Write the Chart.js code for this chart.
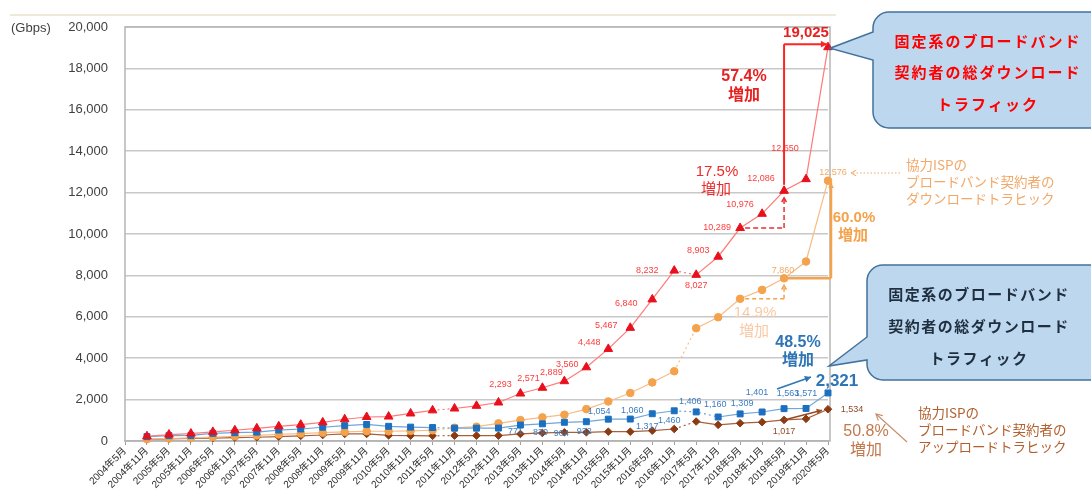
<!DOCTYPE html>
<html>
<head>
<meta charset="utf-8">
<script src="https://cdn.jsdelivr.net/npm/chart.js@4.4.0/dist/chart.umd.min.js"></script>
<style>
  html, body { margin: 0; background: #fff; }
</style>
</head>
<body>
<canvas id="trafficChart" width="1091" height="495"></canvas>
<script>
// Categories (semiannual)
const months = ['2004年5月','2004年11月','2005年5月','2005年11月','2006年5月','2006年11月','2007年5月','2007年11月',
  '2008年5月','2008年11月','2009年5月','2009年11月','2010年5月','2010年11月','2011年5月','2011年11月',
  '2012年5月','2012年11月','2013年5月','2013年11月','2014年5月','2014年11月','2015年5月','2015年11月',
  '2016年5月','2016年11月','2017年5月','2017年11月','2018年5月','2018年11月','2019年5月','2019年11月','2020年5月'];

// Gbps
const totalDown = [null, 230, 310, 360, 440, 520, 610, 710, 790, 900, 1050, 1160, 1180, 1330, 1480, 1570, 1700, 1860,
  2293, 2571, 2889, 3560, 4448, 5467, 6840, 8232, 8027, 8903, 10289, 10976, 12086, 12650, 19025];
const ispDown = [null, 90, 120, 150, 190, 230, 270, 320, 360, 400, 440, 470, 470, 490, 520, 640, 690, 850,
  1010, 1140, 1270, 1540, 1910, 2320, 2830, 3370, 5450, 5980, 6870, 7300, 7860, 8670, 12576];
const totalUp = [null, 210, 260, 270, 370, 400, 430, 530, 580, 665, 740, 800, 710, 670, 650, 620, 620, 625,
  771, 830, 904, 932, 1054, 1060, 1317, 1460, 1406, 1160, 1309, 1401, 1563, 1571, 2321];
const ispUp = [null, 80, 100, 120, 140, 160, 180, 210, 250, 290, 340, 340, 270, 260, 250, 260, 260, 260,
  340, 390, 420, 420, 450, 450, 500, 580, 940, 780, 860, 910, 1017, 1070, 1534];

const yTicks = [0, 2000, 4000, 6000, 8000, 10000, 12000, 14000, 16000, 18000, 20000];

const FONT = '"Liberation Sans", "Noto Sans CJK JP", sans-serif';
const JP = '"Noto Sans CJK JP", "Liberation Sans", sans-serif';
Chart.defaults.font.family = FONT;

// segments drawn dotted (index of the starting point)
function dotted(list) {
  return { borderDash: c => list.includes(c.p0DataIndex) ? [2, 3] : undefined };
}

function series(name, data, line, mark, style, r, dots) {
  return {
    label: name, data: data,
    borderColor: line, borderWidth: 1.2,
    pointStyle: style, pointRadius: r, pointBackgroundColor: mark, pointBorderColor: mark, pointBorderWidth: 1,
    clip: false, spanGaps: false,
    segment: dotted(dots)
  };
}

// label offsets per point [dx, dy]; dsi: 0 red, 1 blue, 2 orange, 3 brown
const labelSpots = [
  { dsi: 0, color: '#ff3b3b', at: { 18: [-20, -9], 19: [-14, -9], 20: [-13, -9], 21: [-19, -3], 22: [-19, -6], 23: [-24, -2],
      24: [-26, 4], 25: [-27, 0], 26: [0, 11], 27: [-20, -6], 28: [-23, -1], 29: [-22, -9], 30: [-23, -12], 31: [-21, -31] } },
  { dsi: 1, color: '#3a7cc0', at: { 18: [-5, 6], 19: [-2, 9], 20: [-3, 11], 21: [-2, 10], 22: [-9, -8], 23: [2, -9],
      24: [-5, 13], 25: [-5, 10], 26: [-6, -10], 27: [-3, -12], 28: [2, -10], 29: [-5, -19], 30: [4, -15], 31: [0, -15] } },
  { dsi: 2, color: '#f3aa63', at: { 30: [-1, -8], 32: [5, -8] } },
  { dsi: 3, color: '#8a4a2a', at: { 30: [0, 12], 32: [24, 0] } }
];

function arrow(ctx, x1, y1, x2, y2, color, w, dash, head, open) {
  ctx.save();
  ctx.strokeStyle = color; ctx.fillStyle = color; ctx.lineWidth = w;
  ctx.setLineDash(dash || []);
  ctx.beginPath(); ctx.moveTo(x1, y1); ctx.lineTo(x2, y2); ctx.stroke();
  if (head) {
    const a = Math.atan2(y2 - y1, x2 - x1);
    ctx.setLineDash([]);
    ctx.beginPath();
    ctx.moveTo(x2 - head * Math.cos(a - 0.5), y2 - head * Math.sin(a - 0.5));
    ctx.lineTo(x2, y2);
    ctx.lineTo(x2 - head * Math.cos(a + 0.5), y2 - head * Math.sin(a + 0.5));
    if (open) { ctx.stroke(); } else { ctx.closePath(); ctx.fill(); }
  }
  ctx.restore();
}

function txt(ctx, s, x, y, font, color, align, spacing) {
  ctx.save();
  ctx.font = font; ctx.fillStyle = color;
  ctx.textAlign = align || 'center'; ctx.textBaseline = 'middle';
  if (spacing) ctx.letterSpacing = spacing + 'px';
  ctx.fillText(s, x, y);
  ctx.restore();
}

function bubble(ctx, b) {
  const { x, y, w, h, r, p1, p2, tip } = b;
  ctx.save();
  ctx.beginPath();
  ctx.moveTo(x + r, y);
  ctx.lineTo(x + w - r, y);
  ctx.arcTo(x + w, y, x + w, y + r, r);
  ctx.lineTo(x + w, y + h - r);
  ctx.arcTo(x + w, y + h, x + w - r, y + h, r);
  ctx.lineTo(x + r, y + h);
  ctx.arcTo(x, y + h, x, y + h - r, r);
  ctx.lineTo(x, p2);
  ctx.lineTo(tip[0], tip[1]);
  ctx.lineTo(x, p1);
  ctx.lineTo(x, y + r);
  ctx.arcTo(x, y, x + r, y, r);
  ctx.closePath();
  ctx.fillStyle = '#bdd7ee';
  ctx.fill();
  ctx.strokeStyle = '#41719c';
  ctx.lineWidth = 1.5;
  ctx.stroke();
  ctx.restore();
}

const frame = {
  id: 'frame',
  beforeDatasetsDraw(chart) {
    const { ctx, chartArea: a } = chart;
    ctx.save();
    ctx.strokeStyle = '#b5b5b5';
    ctx.lineWidth = 1.5;
    ctx.strokeRect(a.left, a.top, a.right + 2 - a.left, a.bottom - a.top);
    ctx.strokeStyle = '#efe9dc';
    ctx.lineWidth = 2;
    ctx.beginPath(); ctx.moveTo(10, 15); ctx.lineTo(836, 15); ctx.stroke();
    ctx.restore();
  }
};

const notes = {
  id: 'notes',
  afterDatasetsDraw(chart) {
    const { ctx, scales: { x, y } } = chart;
    const px = i => x.getPixelForValue(i);
    const py = v => y.getPixelForValue(v);
    const last = months.length - 1;

    // data labels
    labelSpots.forEach(set => {
      const meta = chart.getDatasetMeta(set.dsi);
      const data = chart.data.datasets[set.dsi].data;
      Object.keys(set.at).forEach(k => {
        const p = meta.data[k], o = set.at[k];
        txt(ctx, data[k].toLocaleString('en-US'), p.x + o[0], p.y + o[1], '9px ' + FONT, set.color);
      });
    });

    // "(Gbps)"
    txt(ctx, '(Gbps)', 11, 28, '13px ' + FONT, '#404040', 'left');

    // red: 57.4% bracket
    const rx = px(30), rTop = py(totalDown[last]) - 3;
    ctx.save();
    ctx.strokeStyle = '#ff2424'; ctx.lineWidth = 2;
    ctx.beginPath(); ctx.moveTo(rx, py(totalDown[30]) - 6); ctx.lineTo(rx, rTop); ctx.stroke();
    ctx.restore();
    arrow(ctx, rx, rTop, px(last) - 1, rTop, '#ff2424', 2, null, 7);
    txt(ctx, '19,025', px(last) - 22, py(totalDown[last]) - 14, 'bold 15px ' + FONT, '#e82020');
    txt(ctx, '57.4%', 744, 77, 'bold 16px ' + FONT, '#e82020');
    txt(ctx, '増加', 744, 94, 'bold 16px ' + JP, '#e82020');

    // red: 17.5% dashed
    const ry0 = py(totalDown[28]);
    arrow(ctx, px(28) + 5, ry0, rx, ry0, '#e83030', 1.5, [5, 3], 0);
    arrow(ctx, rx, ry0, rx, py(totalDown[30]) + 7, '#e83030', 1.5, [5, 3], 5, true);
    txt(ctx, '17.5%', 717, 172, '15px ' + FONT, '#ee2a2a');
    txt(ctx, '増加', 716, 188, '15px ' + JP, '#ee2a2a');

    // orange: 60.0% bracket
    const ox = px(last) + 3, oy0 = py(ispDown[30]);
    ctx.save();
    ctx.strokeStyle = '#f4a24c'; ctx.lineWidth = 2.5;
    ctx.beginPath(); ctx.moveTo(px(30) + 4, oy0); ctx.lineTo(ox, oy0); ctx.stroke();
    ctx.restore();
    arrow(ctx, ox, oy0, ox, py(ispDown[last]) + 2, '#f4a24c', 2.5, null, 6);
    txt(ctx, '60.0%', 854, 218, 'bold 15px ' + FONT, '#f4a24c');
    txt(ctx, '増加', 853, 234, 'bold 15px ' + JP, '#f4a24c');

    // orange: 14.9% dashed
    const oy1 = py(ispDown[28]);
    arrow(ctx, px(28) + 5, oy1, px(30), oy1, '#f4a24c', 1.5, [4, 3], 0);
    arrow(ctx, px(30), oy1, px(30), oy0 + 7, '#f4a24c', 1.5, [4, 3], 5, true);
    txt(ctx, '14.9%', 755, 313, '15px ' + FONT, '#f9c9a4');
    txt(ctx, '増加', 754, 330, '15px ' + JP, '#f9c9a4');

    // orange note
    arrow(ctx, 900, 173, 851, 173, '#f2a868', 1, [1.5, 2], 6, true);
    ['協力ISPの', 'ブロードバンド契約者の', 'ダウンロードトラヒック'].forEach((s, i) =>
      txt(ctx, s, 906, 165 + i * 17, '13.5px ' + JP, '#f2a868', 'left'));

    // blue: 48.5%
    txt(ctx, '48.5%', 798, 343, 'bold 16px ' + FONT, '#2e75b6');
    txt(ctx, '増加', 798, 359, 'bold 16px ' + JP, '#2e75b6');
    arrow(ctx, 777, 389, 811, 377, '#2e75b6', 1.5, null, 7);
    txt(ctx, '2,321', px(last) + 9, py(totalUp[last]) - 12, 'bold 17px ' + FONT, '#2e75b6');

    // brown: 50.8%
    arrow(ctx, px(30), py(ispUp[30]), px(last) - 6, py(ispUp[last]) + 1, '#9a4a22', 1.5, null, 6);
    txt(ctx, '50.8%', 866, 432, '16px ' + FONT, '#c27a4e');
    txt(ctx, '増加', 866, 449, '16px ' + JP, '#c27a4e');
    arrow(ctx, 907, 442, 876, 414, '#c8906e', 1.2, null, 7, true);
    ['協力ISPの', 'ブロードバンド契約者の', 'アップロードトラヒック'].forEach((s, i) =>
      txt(ctx, s, 918, 413 + i * 17, '13.5px ' + JP, '#b3602e', 'left'));

    // callouts
    bubble(ctx, { x: 873, y: 12, w: 240, h: 116, r: 16, p1: 32, p2: 60, tip: [px(last) + 2, py(totalDown[last]) + 1] });
    ['固定系のブロードバンド', '契約者の総ダウンロード', 'トラフィック'].forEach((s, i) =>
      txt(ctx, s, 988, 41 + i * 31.5, 'bold 15px ' + JP, '#ff0000', 'center', 2));

    bubble(ctx, { x: 867, y: 265, w: 240, h: 115, r: 16, p1: 337, p2: 360, tip: [px(last) + 1, py(totalUp[last]) - 27] });
    ['固定系のブロードバンド', '契約者の総ダウンロード', 'トラフィック'].forEach((s, i) =>
      txt(ctx, s, 979, 294 + i * 32, 'bold 15px ' + JP, '#1f2f3f', 'center', 1.5));
  }
};

new Chart(document.getElementById('trafficChart'), {
  type: 'line',
  data: {
    labels: months,
    datasets: [
      series('固定系のブロードバンド契約者の総ダウンロードトラフィック', totalDown, '#ff7a7a', '#e8101c', 'triangle', 5, [14, 25]),
      series('固定系のブロードバンド契約者の総アップロードトラフィック', totalUp, '#6ea6d8', '#1a6fc0', 'rect', 4.2, [14, 25, 26]),
      series('協力ISPのブロードバンド契約者のダウンロードトラヒック', ispDown, '#f8bc84', '#f4a24c', 'circle', 3.8, [14, 25]),
      series('協力ISPのブロードバンド契約者のアップロードトラヒック', ispUp, '#a8603a', '#8b3a12', 'rectRot', 3.8, [14, 25])
    ]
  },
  options: {
    responsive: false,
    devicePixelRatio: 1,
    animation: false,
    layout: { padding: { top: 27, right: 263, left: 0, bottom: 0 } },
    plugins: { legend: { display: false }, tooltip: { enabled: false } },
    scales: {
      x: {
        offset: false,
        grid: { drawOnChartArea: false, tickLength: 4, color: '#a0a0a0' },
        border: { color: '#b5b5b5', width: 1.5 },
        ticks: { autoSkip: false, maxRotation: 45, minRotation: 45, padding: 0, color: '#2a2a2a', font: { size: 10 } },
        afterFit: s => { s.height = 54; }
      },
      y: {
        min: 0, max: 20000,
        afterBuildTicks: s => { s.ticks = yTicks.map(v => ({ value: v })); },
        ticks: { padding: 17, color: '#404040', font: { size: 13 }, callback: v => v.toLocaleString('en-US') },
        grid: { color: '#c8c8c8', lineWidth: 1.5, drawTicks: false },
        border: { display: false },
        afterFit: s => { s.width = 125; }
      }
    }
  },
  plugins: [frame, notes]
});
</script>
</body>
</html>
